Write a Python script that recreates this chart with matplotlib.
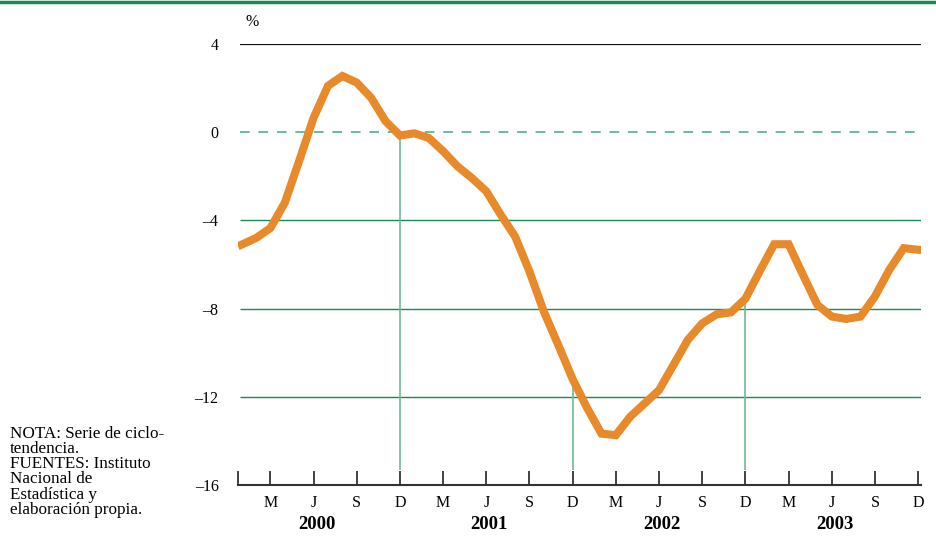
import numpy as np
import matplotlib
matplotlib.use("Agg")
import matplotlib.pyplot as plt
from matplotlib.lines import Line2D

plt.rcParams['font.family'] = ['Liberation Serif', 'DejaVu Serif']

# monthly series, Jan 2000 .. Dec 2003 (%)
values = [
    -5.1, -4.8, -4.35, -3.2, -1.3, 0.65, 2.1, 2.55, 2.25, 1.56, 0.5, -0.15,
    -0.05, -0.26, -0.86, -1.55, -2.08, -2.68, -3.74, -4.73, -6.32, -8.14, -9.65, -11.2,
    -12.5, -13.67, -13.74, -12.9, -12.3, -11.7, -10.56, -9.42, -8.67, -8.26, -8.17, -7.55,
    -6.3, -5.08, -5.08, -6.47, -7.83, -8.36, -8.47, -8.36, -7.45, -6.24, -5.26, -5.33,
]
years = ['2000', '2001', '2002', '2003']
month_labels = ['M', 'J', 'S', 'D']
yticks = [4, 0, -4, -8, -12, -16]
note = ("NOTA: Serie de ciclo-\ntendencia.\nFUENTES: Instituto\nNacional de\n"
        "Estadística y\nelaboración propia.")

orange = '#e8892a'
green = '#1a8a55'
light_green = '#6dbb98'

x = np.arange(len(values))

fig = plt.figure(figsize=(9.37, 5.48), dpi=100)
ax = fig.add_axes([238/937, 1-485/548, (921-238)/937, (485-44)/548])
ax.set_xlim(-0.25, 47.2)
ax.set_ylim(-16, 4)

# grid lines
ax.hlines(4, -0.1, 47.2, color='#111111', lw=1.6, zorder=1)
ax.hlines(0, -0.1, 47.2, color=light_green, lw=1.4, linestyles=(0, (5, 4.5)), zorder=1)
ax.hlines([-4, -8, -12], -0.1, 47.2, color=green, lw=1.0, zorder=1)

# vertical markers at each December (except the last)
for i in [11, 23, 35]:
    ax.vlines(i, -15.3, values[i], color=light_green, lw=1.2, zorder=1)

ax.plot(x, values, color=orange, lw=5.8, solid_joinstyle='miter', zorder=3)

for s in ['left', 'right', 'top']:
    ax.spines[s].set_visible(False)
ax.spines['bottom'].set_color('#333333')
ax.spines['bottom'].set_linewidth(1.5)

ax.set_yticks(yticks)
ax.set_yticklabels([str(v).replace('-', '\u2013') for v in yticks], fontsize=11.5)
ax.tick_params(axis='y', length=0, pad=14)

tick_pos = list(range(2, 48, 3))
ax.set_xticks(tick_pos)
ax.set_xticklabels(month_labels * 4, fontsize=11.5)
ax.set_xticks([-0.25], minor=True)
ax.tick_params(axis='x', which='both', direction='in', length=10, width=1.3,
               color='#333333', pad=7)

for k, yr in enumerate(years):
    ax.text(5.2 + 12*k, -17.8, yr, ha='center', va='center', fontsize=13.5,
            fontweight='bold', clip_on=False)

ax.text(0.3, 5.0, '%', ha='left', va='center', fontsize=11.5, clip_on=False)

fig.text(10/937, 1-426/548, note, ha='left', va='top', fontsize=12.3, linespacing=0.93)

fig.add_artist(Line2D([0, 1], [1-1.5/548, 1-1.5/548], color=green, lw=2.5))

fig.savefig('out.png', dpi=100)
